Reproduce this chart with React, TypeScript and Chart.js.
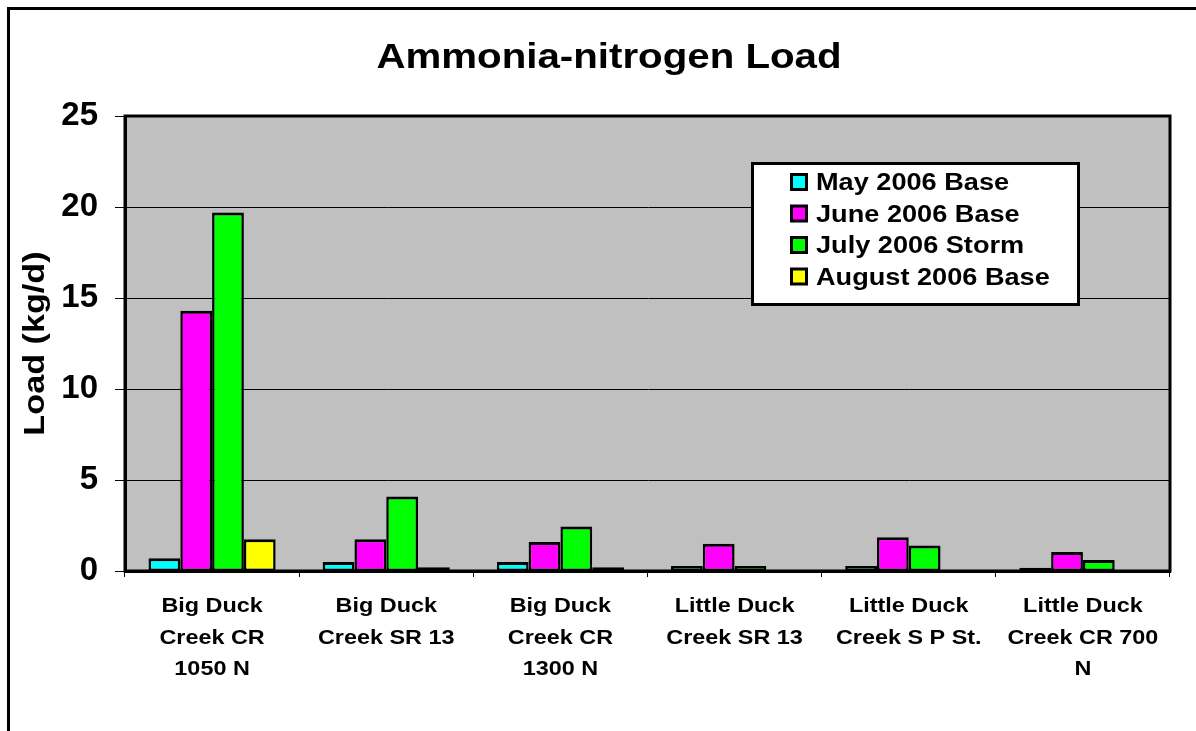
import React, { useEffect, useRef } from 'react';
import { Chart, registerables, CategoryScale, LinearScale } from 'chart.js';

Chart.register(...registerables);

const categories: string[][] = [
  ['Big Duck', 'Creek CR', '1050 N'],
  ['Big Duck', 'Creek SR 13'],
  ['Big Duck', 'Creek CR', '1300 N'],
  ['Little Duck', 'Creek SR 13'],
  ['Little Duck', 'Creek S P St.'],
  ['Little Duck', 'Creek CR 700', 'N'],
];
const seriesNames = ['May 2006 Base', 'June 2006 Base', 'July 2006 Storm', 'August 2006 Base'];
const seriesColors = ['#00FFFF', '#FF00FF', '#00FF00', '#FFFF00'];
const may2006 = [0.7, 0.5, 0.5, 0.27, 0.27, 0.18];
const june2006 = [14.3, 1.75, 1.6, 1.5, 1.85, 1.05];
const july2006 = [19.7, 4.1, 2.45, 0.27, 1.4, 0.6];
const august2006 = [1.75, 0.2, 0.2, 0, 0, 0];
const yMin = 0;
const yMax = 25;
const yStep = 5;
const chartTitle = 'Ammonia-nitrogen Load';
const yAxisTitle = 'Load (kg/d)';

const FONT = '"Liberation Sans", Arial, Helvetica, sans-serif';
const X_STRETCH = 1.17;
const TITLE_STRETCH = 1.15;
const LEGEND_STRETCH = 1.18;
const YTITLE_STRETCH = 1.14;

// Category axis whose labels are drawn slightly widened (like the original Excel text)
class WideCategoryScale extends (CategoryScale as any) {
  static id = 'wideCategory';
  drawLabels(chartArea: any) {
    const items = (this as any).getLabelItems(chartArea);
    const ctx = (this as any).ctx as CanvasRenderingContext2D;
    for (const item of items) {
      const { label, font, textOffset, options } = item;
      const lines = Array.isArray(label) ? label : [label];
      ctx.save();
      ctx.translate(options.translation[0], options.translation[1]);
      ctx.rotate(options.rotation || 0);
      ctx.scale(X_STRETCH, 1);
      ctx.font = font.string;
      ctx.fillStyle = options.color;
      ctx.textAlign = options.textAlign;
      ctx.textBaseline = options.textBaseline;
      let y = textOffset;
      for (const line of lines) {
        ctx.fillText(String(line), 0, y);
        y += font.lineHeight;
      }
      ctx.restore();
    }
  }
}

// Linear axis whose title is drawn slightly widened
class WideLinearScale extends (LinearScale as any) {
  static id = 'wideLinear';
  drawTitle() {
    const opts = (this as any).options.title;
    if (!opts || !opts.display) return;
    const ctx = (this as any).ctx as CanvasRenderingContext2D;
    const size = opts.font.size;
    const lineH = size * (opts.font.lineHeight || 1.2);
    const padTop = typeof opts.padding === 'number' ? opts.padding : (opts.padding.top || 0);
    ctx.save();
    ctx.translate((this as any).left + lineH / 2 + padTop, ((this as any).top + (this as any).bottom) / 2);
    ctx.rotate(-Math.PI / 2);
    ctx.scale(YTITLE_STRETCH, 1);
    ctx.font = `${opts.font.weight} ${size}px ${opts.font.family}`;
    ctx.fillStyle = opts.color;
    ctx.textAlign = 'center';
    ctx.textBaseline = 'middle';
    ctx.fillText(opts.text, 0, 0);
    ctx.restore();
  }
}

Chart.register(WideCategoryScale as any, WideLinearScale as any);

const decorPlugin = {
  id: 'decor',
  beforeDraw(chart: any) {
    const { ctx, chartArea, width, height } = chart;
    ctx.save();
    ctx.fillStyle = '#FFFFFF';
    ctx.fillRect(0, 0, width, height);
    ctx.strokeStyle = '#000000';
    ctx.lineWidth = 3;
    ctx.strokeRect(8.5, 8.5, width + 40, height + 40);
    ctx.fillStyle = '#C0C0C0';
    ctx.fillRect(chartArea.left, chartArea.top, chartArea.right - chartArea.left, chartArea.bottom - chartArea.top);
    ctx.restore();
  },
  afterDraw(chart: any) {
    const { ctx, chartArea } = chart;
    ctx.save();
    ctx.strokeStyle = '#000000';
    ctx.lineWidth = 3;
    ctx.strokeRect(chartArea.left, chartArea.top, chartArea.right - chartArea.left, chartArea.bottom - chartArea.top);

    // title
    ctx.save();
    ctx.translate(609, 68);
    ctx.scale(TITLE_STRETCH, 1);
    ctx.fillStyle = '#000000';
    ctx.font = `bold 35px ${FONT}`;
    ctx.textAlign = 'center';
    ctx.textBaseline = 'alphabetic';
    ctx.fillText(chartTitle, 0, 0);
    ctx.restore();

    // legend
    const bx = 751, by = 162, bw = 329, bh = 144;
    ctx.fillStyle = '#FFFFFF';
    ctx.fillRect(bx, by, bw, bh);
    ctx.lineWidth = 3;
    ctx.strokeStyle = '#000000';
    ctx.strokeRect(bx + 1.5, by + 1.5, bw - 3, bh - 3);
    chart.data.datasets.forEach((ds: any, i: number) => {
      const base = 190 + i * 31.5;
      const sy = base - 17;
      ctx.fillStyle = '#000000';
      ctx.fillRect(790, sy, 18, 18);
      ctx.fillStyle = ds.backgroundColor;
      ctx.fillRect(793, sy + 3, 12, 12);
      ctx.save();
      ctx.translate(816, base);
      ctx.scale(LEGEND_STRETCH, 1);
      ctx.fillStyle = '#000000';
      ctx.font = `bold 23px ${FONT}`;
      ctx.textAlign = 'left';
      ctx.textBaseline = 'alphabetic';
      ctx.fillText(ds.label, 0, 0);
      ctx.restore();
    });
    ctx.restore();
  },
};

export default function App() {
  const canvasRef = useRef<HTMLCanvasElement | null>(null);

  useEffect(() => {
    if (!canvasRef.current) return;
    const series = [may2006, june2006, july2006, august2006];
    const chart = new Chart(canvasRef.current, {
      type: 'bar',
      data: {
        labels: categories,
        datasets: series.map((d, i) => ({
          label: seriesNames[i],
          data: d,
          backgroundColor: seriesColors[i],
          borderColor: '#000000',
          borderWidth: { top: 3, left: 2.5, right: 2.5, bottom: 2 },
          borderSkipped: false,
          barPercentage: 1,
          categoryPercentage: 0.73,
        })),
      },
      options: {
        animation: false,
        responsive: true,
        maintainAspectRatio: false,
        layout: { padding: { left: 12, top: 116, right: 26, bottom: 0 } },
        plugins: {
          legend: { display: false },
          title: { display: false },
          tooltip: { enabled: false },
        },
        scales: {
          x: {
            type: 'wideCategory',
            offset: true,
            afterFit: (s: any) => { s.height = 160; },
            grid: { display: true, offset: true, drawOnChartArea: false, drawTicks: true, tickLength: 6, color: '#000000', lineWidth: 1 },
            border: { display: true, color: '#000000', width: 3 },
            ticks: {
              color: '#000000',
              font: { family: FONT, size: 20, weight: 'bold', lineHeight: 1.575 },
              padding: 14,
              maxRotation: 0,
              minRotation: 0,
              autoSkip: false,
            },
          },
          y: {
            type: 'wideLinear',
            min: yMin,
            max: yMax,
            afterFit: (s: any) => { s.width = 113; },
            grid: { display: true, drawTicks: true, tickLength: 10, color: '#000000', lineWidth: 1 },
            border: { display: true, color: '#000000', width: 3 },
            ticks: {
              stepSize: yStep,
              color: '#000000',
              font: { family: FONT, size: 33, weight: 'bold' },
              padding: 17,
            },
            title: {
              display: true,
              text: yAxisTitle,
              color: '#000000',
              font: { family: FONT, size: 30, weight: 'bold', lineHeight: 1.2 },
              padding: { top: 6, bottom: 0 },
            },
          },
        },
      } as any,
      plugins: [decorPlugin],
    });
    return () => chart.destroy();
  }, []);

  return (
    <div style={{ position: 'fixed', left: 0, top: 0, width: 1196, height: 731, background: '#FFFFFF' }}>
      <canvas ref={canvasRef} />
    </div>
  );
}
